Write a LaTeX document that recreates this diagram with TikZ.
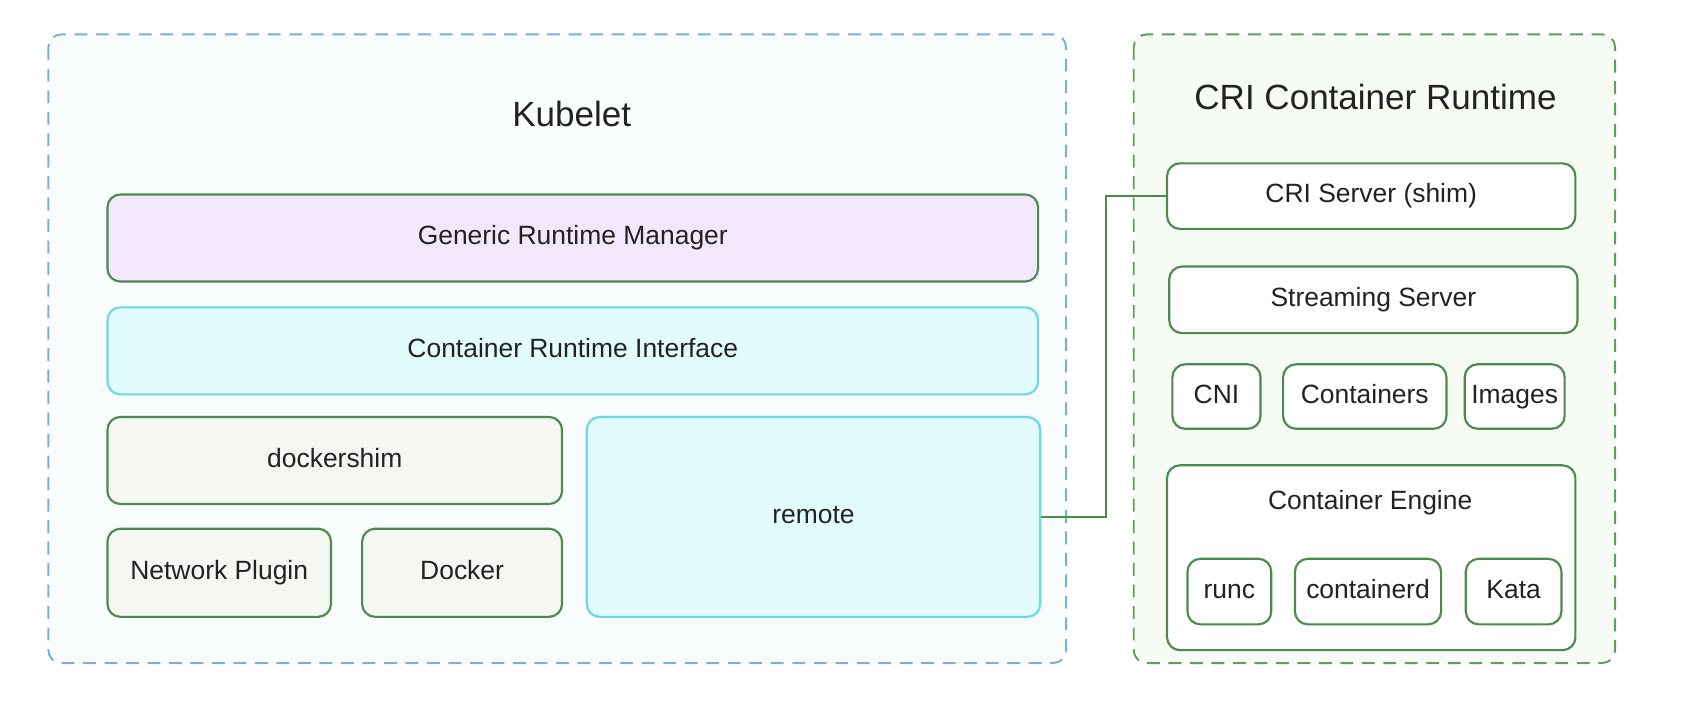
\documentclass[tikz,border=0pt]{standalone}
\usepackage{fontspec}
\setmainfont{Liberation Sans}
\definecolor{kubBorder}{HTML}{7AB0D8}
\definecolor{kubFill}{HTML}{F8FCFD}
\definecolor{criBorder}{HTML}{5F9E5F}
\definecolor{criFill}{HTML}{F6FBF3}
\definecolor{boxGreen}{HTML}{4D8A4D}
\definecolor{grmFill}{HTML}{F3E8FB}
\definecolor{cyanBorder}{HTML}{6AD8EA}
\definecolor{cyanFill}{HTML}{E2FCFD}
\definecolor{dsFill}{HTML}{F4F7F2}
\definecolor{txt}{HTML}{222222}
\begin{document}
\begin{tikzpicture}[x=0.5pt,y=-0.5pt,
  every node/.style={text=txt},
  body/.style={font=\fontsize{12.3}{14}\selectfont, text height=1.6ex, text depth=0.4ex},
  ttl/.style={font=\fontsize{16.3}{19}\selectfont},
  outerbox/.style={draw, dashed, dash pattern=on 6pt off 4pt, line width=0.9pt, rounded corners=6pt},
  gbox/.style={draw=boxGreen, line width=1pt, rounded corners=6pt, anchor=north west, inner sep=0pt, body},
  cbox/.style={draw=cyanBorder, fill=cyanFill, line width=1pt, rounded corners=6pt, anchor=north west, inner sep=0pt, body},
  wbox/.style={gbox, fill=white}
]
\useasboundingbox[fill=white] (0,0) rectangle (1568,659);
% outer containers
\draw[outerbox, draw=kubBorder, fill=kubFill] (45,32) rectangle (992,617);
\draw[outerbox, draw=criBorder, fill=criFill] (1055,32) rectangle (1503,617);
\node[ttl] (kubt) at (532,106) {Kubelet};
\node[ttl] (crit) at (1280,90) {CRI Container Runtime};
% kubelet boxes
\node[gbox, fill=grmFill, minimum width=433pt, minimum height=40.5pt] (grm) at (99,180) {Generic Runtime Manager};
\node[cbox, minimum width=433pt, minimum height=40.5pt] (cri) at (99,285) {Container Runtime Interface};
\node[gbox, fill=dsFill, minimum width=211.5pt, minimum height=40.5pt] (ds) at (99,387) {dockershim};
\node[gbox, fill=dsFill, minimum width=104pt, minimum height=41pt] (np) at (99,491) {Network Plugin};
\node[gbox, fill=dsFill, minimum width=93pt, minimum height=41pt] (dk) at (336,491) {Docker};
\node[cbox, minimum width=211pt, minimum height=93pt] (rem) at (545,387) {remote};
% CRI runtime boxes
\node[wbox, minimum width=190pt, minimum height=30.5pt] (cris) at (1085,151) {CRI Server (shim)};
\node[wbox, minimum width=190pt, minimum height=31pt] (ss) at (1087,247) {Streaming Server};
\node[wbox, minimum width=41pt, minimum height=30pt] (cni) at (1090,338) {CNI};
\node[wbox, minimum width=76pt, minimum height=30pt] (cts) at (1193,338) {Containers};
\node[wbox, minimum width=46.5pt, minimum height=30pt] (img) at (1362,338) {Images};
\node[wbox, minimum width=190pt, minimum height=86pt] (ce) at (1085,432) {};
\node[body] (cet) at (1275,468) {Container Engine};
\node[wbox, minimum width=39pt, minimum height=30.5pt] (runc) at (1104,519) {runc};
\node[wbox, minimum width=68pt, minimum height=30.5pt] (ctd) at (1204,519) {containerd};
\node[wbox, minimum width=44.5pt, minimum height=30.5pt] (kata) at (1363,519) {Kata};
% connector
\draw[boxGreen, line width=1pt] (rem.east) -- ++(30pt,0) |- (cris.west);
\end{tikzpicture}
\end{document}
